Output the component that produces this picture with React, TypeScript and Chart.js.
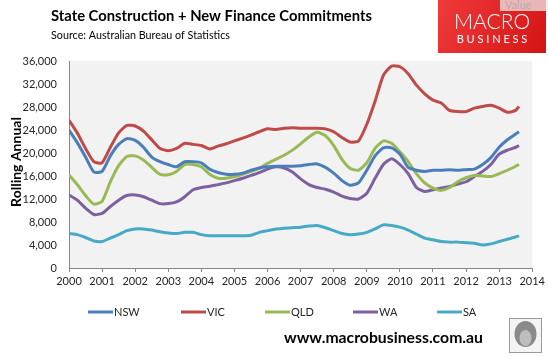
import React, { useEffect, useRef } from "react";
import { Chart, registerables } from "chart.js";

Chart.register(...registerables);

const quarters = [
  2000, 2000.25, 2000.5, 2000.75, 2001, 2001.25, 2001.5, 2001.75,
  2002, 2002.25, 2002.5, 2002.75, 2003, 2003.25, 2003.5, 2003.75,
  2004, 2004.25, 2004.5, 2004.75, 2005, 2005.25, 2005.5, 2005.75,
  2006, 2006.25, 2006.5, 2006.75, 2007, 2007.25, 2007.5, 2007.75,
  2008, 2008.25, 2008.5, 2008.75, 2009, 2009.25, 2009.5, 2009.75,
  2010, 2010.25, 2010.5, 2010.75, 2011, 2011.25, 2011.5, 2011.75,
  2012, 2012.25, 2012.5, 2012.75, 2013, 2013.25, 2013.5, 2013.6,
];

const nsw = [
  24000, 21800, 19300, 16700, 16800, 19500, 21500, 22500,
  22200, 21000, 19300, 18500, 18000, 17600, 18500, 18500,
  18300, 17200, 16600, 16300, 16300, 16500, 17000, 17400,
  17600, 17700, 17700, 17700, 17800, 18000, 18100, 17500,
  16500, 15200, 14400, 14800, 17000, 19500, 20900, 20900,
  19800, 17500, 17000, 16800, 17000, 17000, 17100, 17000,
  17100, 17200, 18000, 19200, 21000, 22300, 23300, 23700,
];

const vic = [
  25700, 23500, 20800, 18500, 18300, 21000, 23500, 24800,
  24700, 23800, 22300, 20800, 20400, 20800, 21700, 21500,
  21300, 20700, 21200, 21600, 22100, 22600, 23100, 23700,
  24200, 24100, 24300, 24400, 24300, 24300, 24300, 24200,
  23700, 22700, 21900, 22100, 25000, 29000, 33500, 35100,
  35000, 33800, 31800, 30300, 29200, 28700, 27400, 27200,
  27200, 27800, 28100, 28300, 27800, 27100, 27400, 28100,
];

const qld = [
  16200, 14500, 12600, 11100, 11600, 15000, 17800, 19400,
  19500, 18800, 17500, 16300, 16200, 16800, 18000, 18000,
  17600, 16300, 15600, 15600, 15900, 16300, 16800, 17300,
  18200, 18900, 19600, 20500, 21600, 22800, 23600, 23000,
  21300, 18900, 17300, 17000, 18300, 20800, 22100, 21700,
  20200, 18500, 16400, 14800, 13900, 13500, 14000, 15000,
  15700, 16100, 16000, 15900, 16400, 17000, 17700, 18000,
];

const wa = [
  12700, 11800, 10400, 9300, 9500, 10700, 11800, 12600,
  12700, 12400, 11800, 11200, 11200, 11500, 12400, 13600,
  14000, 14200, 14500, 14800, 15200, 15600, 16100, 16600,
  17200, 17600, 17400, 16700, 15500, 14500, 14000, 13700,
  13200, 12500, 12100, 12000, 13000, 15600, 18000, 19000,
  18000, 16400, 14000, 13300, 13600, 13900, 14200, 14600,
  15000, 15900, 16800, 18000, 19800, 20500, 21000, 21300,
];

const sa = [
  6000, 5800, 5300, 4700, 4600, 5200, 5800, 6500,
  6800, 6800, 6600, 6300, 6100, 6000, 6200, 6200,
  5800, 5600, 5600, 5600, 5600, 5600, 5700, 6200,
  6500, 6800, 6900, 7000, 7100, 7300, 7400, 7000,
  6500, 6000, 5800, 5900, 6200, 6800, 7500, 7400,
  7100, 6600, 5900, 5200, 4900, 4600, 4500, 4500,
  4400, 4300, 4000, 4200, 4600, 5000, 5400, 5600,
];

const seriesNames = ["NSW", "VIC", "QLD", "WA", "SA"];
const seriesColors = ["#4a7ebb", "#be4b48", "#98b954", "#7d60a0", "#46aac5"];
const seriesValues = [nsw, vic, qld, wa, sa];

const titleText = "State Construction + New Finance Commitments";
const subtitleText = "Source: Australian Bureau of Statistics";
const yTitleText = "Rolling Annual";
const footerText = "www.macrobusiness.com.au";

const FONT = "Lato, 'Open Sans', 'DejaVu Sans', sans-serif";

function fillFit(ctx: CanvasRenderingContext2D, text: string, x: number, y: number, w: number) {
  const m = ctx.measureText(text).width;
  ctx.save();
  ctx.translate(x, y);
  if (m > 0) ctx.scale(w / m, 1);
  ctx.textAlign = "left";
  ctx.fillText(text, 0, 0);
  ctx.restore();
}

const decorPlugin = {
  id: "decor",
  beforeDraw(chart: any) {
    const { ctx, chartArea } = chart;
    ctx.save();
    ctx.fillStyle = "#ffffff";
    ctx.fillRect(0, 0, chart.width, chart.height);
    ctx.fillStyle = "#f2f2f2";
    ctx.fillRect(chartArea.left, chartArea.top, chartArea.right - chartArea.left, chartArea.bottom - chartArea.top);
    ctx.restore();
  },
  afterDraw(chart: any) {
    const { ctx } = chart;
    ctx.save();
    ctx.textBaseline = "alphabetic";
    // Title
    ctx.fillStyle = "#000000";
    ctx.font = `bold 16px ${FONT}`;
    fillFit(ctx, titleText, 51, 21, 321);
    ctx.font = `11px ${FONT}`;
    fillFit(ctx, subtitleText, 51, 39, 179);

    // Y axis title
    ctx.save();
    ctx.translate(21, 162);
    ctx.rotate(-Math.PI / 2);
    ctx.font = `bold 14px ${FONT}`;
    ctx.textAlign = "center";
    ctx.fillStyle = "#000000";
    ctx.fillText(yTitleText, 0, 0);
    ctx.restore();

    // Logo
    const lx = 438, lw = 108, lh = 53;
    const grad = ctx.createLinearGradient(lx, 0, lx + lw, lh);
    grad.addColorStop(0, "#f03a3a");
    grad.addColorStop(1, "#d41414");
    ctx.fillStyle = grad;
    ctx.fillRect(lx, 0, lw, lh);
    ctx.fillStyle = "#ffffff";
    ctx.font = `300 21px ${FONT}`;
    ctx.textAlign = "center";
    ctx.fillText("MACRO", lx + lw / 2, 29);
    ctx.font = `11px ${FONT}`;
    ctx.fillText("B U S I N E S S", lx + lw / 2, 43);
    // tooltip remnant
    ctx.fillStyle = "rgba(235,235,235,0.75)";
    ctx.fillRect(500, 0, 48, 11);
    ctx.fillStyle = "rgba(160,160,160,0.6)";
    ctx.font = `11px ${FONT}`;
    ctx.textAlign = "left";
    ctx.fillText("Value", 505, 9);

    // Legend
    const legendX = [88, 181, 265, 353, 437];
    ctx.font = `11px ${FONT}`;
    ctx.textAlign = "left";
    seriesNames.forEach((name, i) => {
      const x0 = legendX[i];
      ctx.strokeStyle = seriesColors[i];
      ctx.lineWidth = 3;
      ctx.beginPath();
      ctx.moveTo(x0, 312);
      ctx.lineTo(x0 + 25, 312);
      ctx.stroke();
      ctx.fillStyle = "#262626";
      ctx.fillText(name, x0 + 26, 316);
    });

    // Footer
    ctx.fillStyle = "#000000";
    ctx.font = `bold 15px ${FONT}`;
    fillFit(ctx, footerText, 284, 343, 199);

    // Wolf badge
    ctx.fillStyle = "#f4f4f4";
    ctx.fillRect(509, 318, 33, 35);
    ctx.strokeStyle = "#9a9a9a";
    ctx.lineWidth = 1;
    ctx.strokeRect(509.5, 318.5, 32, 34);
    ctx.fillStyle = "#8a8a8a";
    ctx.beginPath();
    ctx.ellipse(525.5, 334, 11, 13, 0, 0, Math.PI * 2);
    ctx.fill();
    ctx.fillStyle = "#bdbdbd";
    ctx.beginPath();
    ctx.ellipse(525.5, 338, 6, 8, 0, 0, Math.PI * 2);
    ctx.fill();
    ctx.restore();
  },
};

export default function App() {
  const ref = useRef<HTMLCanvasElement | null>(null);
  useEffect(() => {
    if (!ref.current) return;
    const chart = new Chart(ref.current, {
      type: "line",
      data: {
        datasets: seriesNames.map((name, i) => ({
          label: name,
          data: quarters.map((q, j) => ({ x: q, y: seriesValues[i][j] })),
          borderColor: seriesColors[i],
          backgroundColor: seriesColors[i],
          borderWidth: 3,
          pointRadius: 0,
          tension: 0.2,
          fill: false,
        })),
      },
      options: {
        responsive: false,
        animation: false,
        layout: { padding: { left: 0, right: 13, top: 61, bottom: 69 } },
        plugins: { legend: { display: false }, tooltip: { enabled: false }, title: { display: false } },
        scales: {
          x: {
            type: "linear",
            min: 2000,
            max: 2014,
            afterFit: (a: any) => { a.height = 20; },
            ticks: {
              stepSize: 1,
              autoSkip: false,
              maxRotation: 0,
              color: "#262626",
              padding: 3,
              font: { family: FONT, size: 11 },
              callback: (v: any) => String(v),
            },
            grid: { display: true, drawOnChartArea: false, drawTicks: true, tickLength: 4, color: "#868686" },
            border: { display: true, color: "#868686" },
          },
          y: {
            min: 0,
            max: 36000,
            afterFit: (a: any) => { a.width = 69; },
            ticks: {
              stepSize: 4000,
              color: "#262626",
              padding: 12,
              font: { family: FONT, size: 11 },
              callback: (v: any) => Number(v).toLocaleString("en-US"),
            },
            grid: { display: false, drawTicks: false },
            border: { display: true, color: "#868686" },
          },
        },
      },
      plugins: [decorPlugin],
    } as any);
    return () => chart.destroy();
  }, []);
  return (
    <div style={{ position: "absolute", left: 0, top: 0, width: 548, height: 357, background: "#fff" }}>
      <canvas ref={ref} width={548} height={357} style={{ display: "block", width: 548, height: 357 }} />
    </div>
  );
}
